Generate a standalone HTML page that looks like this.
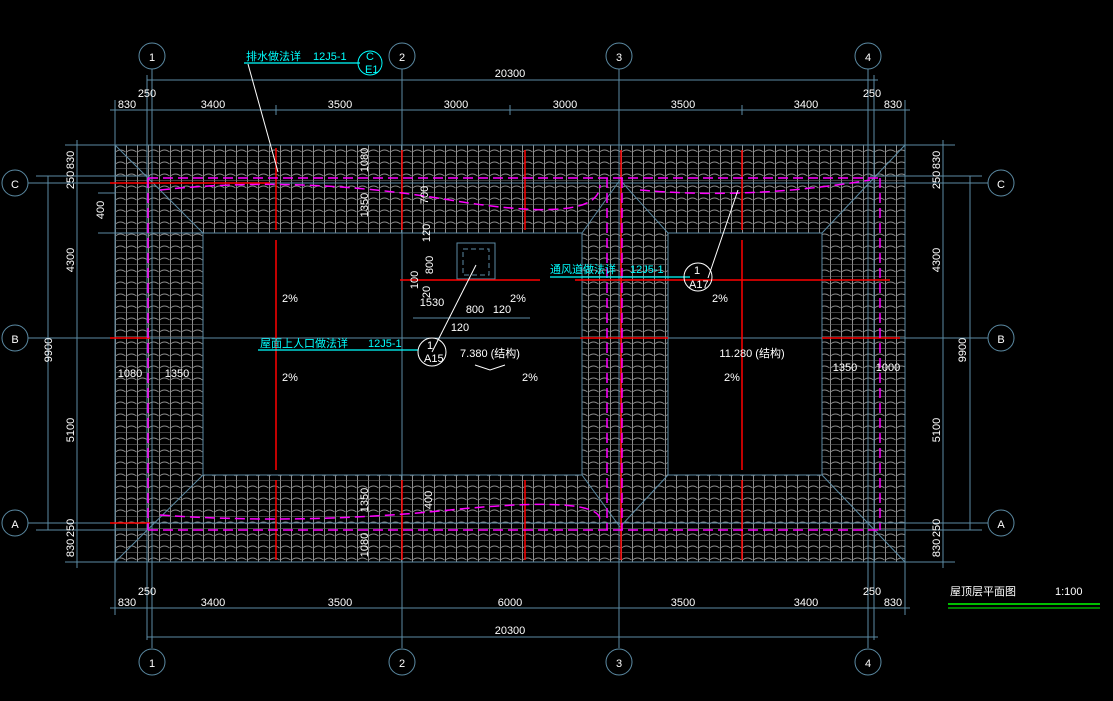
<!DOCTYPE html>
<html><head><meta charset="utf-8"><style>
html,body{margin:0;padding:0;background:#000;}
svg{display:block}
text{font-family:"Liberation Sans","Noto Sans CJK SC",sans-serif;fill:#fff;font-size:11px}
.c{fill:#00ffff}
</style></head><body>
<svg width="1113" height="701" viewBox="0 0 1113 701" xmlns="http://www.w3.org/2000/svg">
<defs>
<pattern id="tile" x="115" y="145" width="11" height="12" patternUnits="userSpaceOnUse">
<line x1="0.5" y1="0" x2="0.5" y2="12" stroke="#8e8e8e" stroke-width="1"/>
<path d="M0.5 7 Q5.5 3 10.5 7" fill="none" stroke="#8e8e8e" stroke-width="0.9"/>
<line x1="0" y1="11.5" x2="11" y2="11.5" stroke="#6a6a6a" stroke-width="0.6"/>
</pattern>
</defs>
<rect width="1113" height="701" fill="#000"/>
<path d="M115 145 H905 V562 H115 Z M203 233 V475 H582 V233 Z M668 233 V475 H822 V233 Z" fill="url(#tile)" fill-rule="evenodd"/>
<g stroke="#5b8aa3" stroke-width="1" fill="none">
<rect x="115" y="145" width="790" height="417"/>
<rect x="203" y="233" width="379" height="242"/>
<rect x="668" y="233" width="154" height="242"/>
<line x1="115" y1="145" x2="203" y2="233"/><line x1="905" y1="145" x2="822" y2="233"/>
<line x1="115" y1="562" x2="203" y2="475"/><line x1="905" y1="562" x2="822" y2="475"/>
<line x1="582" y1="233" x2="620" y2="180"/><line x1="668" y1="233" x2="620" y2="180"/>
<line x1="582" y1="475" x2="620" y2="527"/><line x1="668" y1="475" x2="620" y2="527"/>
<line x1="152" y1="68" x2="152" y2="648"/><line x1="402" y1="68" x2="402" y2="648"/>
<line x1="619" y1="68" x2="619" y2="648"/><line x1="868" y1="68" x2="868" y2="648"/>
<line x1="28" y1="183" x2="988" y2="183"/><line x1="28" y1="338" x2="988" y2="338"/>
<line x1="28" y1="523" x2="988" y2="523"/>
<line x1="147" y1="80" x2="878" y2="80"/>
<line x1="110" y1="110" x2="910" y2="110"/>
<line x1="115" y1="100" x2="115" y2="145"/><line x1="905" y1="100" x2="905" y2="145"/>
<line x1="147" y1="75" x2="147" y2="640"/><line x1="874" y1="75" x2="874" y2="640"/>
<line x1="276" y1="105" x2="276" y2="115"/><line x1="510" y1="105" x2="510" y2="115"/><line x1="742" y1="105" x2="742" y2="115"/>
<line x1="110" y1="608" x2="910" y2="608"/>
<line x1="147" y1="637" x2="878" y2="637"/>
<line x1="115" y1="562" x2="115" y2="615"/><line x1="905" y1="562" x2="905" y2="615"/>
<line x1="48" y1="176" x2="48" y2="530"/>
<line x1="77" y1="140" x2="77" y2="568"/>
<line x1="65" y1="145" x2="115" y2="145"/><line x1="65" y1="562" x2="115" y2="562"/>
<line x1="36" y1="176" x2="150" y2="176"/><line x1="36" y1="530" x2="150" y2="530"/>
<line x1="98" y1="193" x2="115" y2="193"/><line x1="98" y1="233" x2="203" y2="233"/>
<line x1="970" y1="176" x2="970" y2="530"/>
<line x1="943" y1="140" x2="943" y2="568"/>
<line x1="905" y1="145" x2="955" y2="145"/><line x1="905" y1="562" x2="955" y2="562"/>
<line x1="870" y1="176" x2="982" y2="176"/><line x1="870" y1="530" x2="982" y2="530"/>
<rect x="457" y="243" width="38" height="36"/>
<line x1="413" y1="318" x2="530" y2="318"/>
</g>
<rect x="463" y="249" width="26" height="26" fill="none" stroke="#5b8aa3" stroke-dasharray="5 3"/>
<g stroke="#ff0000" stroke-width="1.5">
<line x1="276" y1="148" x2="276" y2="230"/><line x1="276" y1="240" x2="276" y2="470"/><line x1="276" y1="480" x2="276" y2="560"/>
<line x1="402" y1="150" x2="402" y2="230"/><line x1="402" y1="480" x2="402" y2="560"/>
<line x1="525" y1="150" x2="525" y2="230"/><line x1="525" y1="480" x2="525" y2="560"/>
<line x1="621" y1="150" x2="621" y2="560"/>
<line x1="742" y1="150" x2="742" y2="230"/><line x1="742" y1="240" x2="742" y2="470"/><line x1="742" y1="480" x2="742" y2="560"/>
<line x1="110" y1="183" x2="270" y2="183"/><line x1="110" y1="338" x2="150" y2="338"/><line x1="110" y1="523" x2="150" y2="523"/>
<line x1="400" y1="280" x2="540" y2="280"/><line x1="575" y1="280" x2="890" y2="280"/>
<line x1="580" y1="338" x2="668" y2="338"/><line x1="822" y1="338" x2="900" y2="338"/>
</g>
<g stroke="#ff00ff" stroke-width="1.5" fill="none" stroke-dasharray="10 5">
<polyline points="148,178 880,178"/><polyline points="148,530 880,530"/>
<polyline points="148,178 148,530"/><polyline points="880,178 880,530"/>
<polyline points="607,178 607,530"/><polyline points="622,178 622,530"/>
<path d="M160 190 Q300 175 450 200 T600 185"/><path d="M640 190 Q750 200 870 180"/>
<path d="M160 515 Q300 525 450 510 T600 520"/>
</g>
<g stroke="#fff" stroke-width="1" fill="none">
<line x1="248" y1="64" x2="278" y2="172"/>
<line x1="476" y1="265" x2="432" y2="352"/>
<line x1="738" y1="190" x2="708" y2="278"/>
<path d="M475 365 L490 370 L505 365" />
</g>
<g stroke="#00ffff" stroke-width="1.3">
<line x1="244" y1="63" x2="360" y2="63"/>
<line x1="550" y1="277" x2="690" y2="277"/>
<line x1="258" y1="350" x2="418" y2="350"/>
</g>
<g fill="none" stroke="#fff" stroke-width="1">
<circle cx="432" cy="352" r="14"/><circle cx="698" cy="277" r="14"/>
</g>
<circle cx="370" cy="63" r="12" fill="none" stroke="#00ffff"/>
<text x="427" y="349" font-size="10">1</text><text x="424" y="362" font-size="9">A15</text>
<text x="694" y="274" font-size="10">1</text><text x="689" y="288" font-size="9">A17</text>
<text x="366" y="60" font-size="9" class="c">C</text><text x="365" y="73" font-size="9" class="c">E1</text>
<text x="246" y="60" class="c" font-size="13">排水做法详</text><text x="313" y="60" class="c" font-size="11">12J5-1</text>
<text x="550" y="273" class="c" font-size="13">通风道做法详</text><text x="630" y="273" class="c" font-size="11">12J5-1</text>
<text x="260" y="347" class="c" font-size="13">屋面上人口做法详</text><text x="368" y="347" class="c" font-size="11">12J5-1</text>
<g fill="#000" stroke="#5b8aa3" stroke-width="1">
<circle cx="152" cy="56" r="13"/><circle cx="402" cy="56" r="13"/><circle cx="619" cy="56" r="13"/><circle cx="868" cy="56" r="13"/>
<circle cx="152" cy="662" r="13"/><circle cx="402" cy="662" r="13"/><circle cx="619" cy="662" r="13"/><circle cx="868" cy="662" r="13"/>
<circle cx="15" cy="183" r="13"/><circle cx="15" cy="338" r="13"/><circle cx="15" cy="523" r="13"/>
<circle cx="1001" cy="183" r="13"/><circle cx="1001" cy="338" r="13"/><circle cx="1001" cy="523" r="13"/>
</g>
<g font-size="13" text-anchor="middle">
<text x="152" y="61">1</text><text x="402" y="61">2</text><text x="619" y="61">3</text><text x="868" y="61">4</text>
<text x="152" y="667">1</text><text x="402" y="667">2</text><text x="619" y="667">3</text><text x="868" y="667">4</text>
<text x="15" y="188">C</text><text x="15" y="343">B</text><text x="15" y="528">A</text>
<text x="1001" y="188">C</text><text x="1001" y="343">B</text><text x="1001" y="528">A</text>
</g>
<g text-anchor="middle">
<text x="510" y="77">20300</text>
<text x="147" y="97">250</text><text x="872" y="97">250</text>
<text x="127" y="108">830</text><text x="213" y="108">3400</text><text x="340" y="108">3500</text><text x="456" y="108">3000</text><text x="565" y="108">3000</text><text x="683" y="108">3500</text><text x="806" y="108">3400</text><text x="893" y="108">830</text>
<text x="147" y="595">250</text><text x="872" y="595">250</text>
<text x="127" y="606">830</text><text x="213" y="606">3400</text><text x="340" y="606">3500</text><text x="510" y="606">6000</text><text x="683" y="606">3500</text><text x="806" y="606">3400</text><text x="893" y="606">830</text>
<text x="510" y="634">20300</text>
<text x="432" y="306">1530</text><text x="475" y="313">800</text><text x="502" y="313">120</text><text x="460" y="331">120</text>
<text x="490" y="357">7.380 (结构)</text><text x="752" y="357">11.280 (结构)</text>
<text x="130" y="377">1080</text><text x="177" y="377">1350</text><text x="845" y="371">1350</text><text x="888" y="371">1000</text>
<text x="290" y="302" font-size="9">2%</text><text x="518" y="302" font-size="9">2%</text><text x="720" y="302" font-size="9">2%</text>
<text x="290" y="381" font-size="9">2%</text><text x="530" y="381" font-size="9">2%</text><text x="732" y="381" font-size="9">2%</text>
</g>
<g font-size="11" text-anchor="middle">
<text transform="translate(74,160) rotate(-90)">830</text>
<text transform="translate(74,180) rotate(-90)">250</text>
<text transform="translate(104,210) rotate(-90)">400</text>
<text transform="translate(74,260) rotate(-90)">4300</text>
<text transform="translate(52,350) rotate(-90)">9900</text>
<text transform="translate(74,430) rotate(-90)">5100</text>
<text transform="translate(74,528) rotate(-90)">250</text>
<text transform="translate(74,548) rotate(-90)">830</text>
<text transform="translate(940,160) rotate(-90)">830</text>
<text transform="translate(940,180) rotate(-90)">250</text>
<text transform="translate(940,260) rotate(-90)">4300</text>
<text transform="translate(966,350) rotate(-90)">9900</text>
<text transform="translate(940,430) rotate(-90)">5100</text>
<text transform="translate(940,528) rotate(-90)">250</text>
<text transform="translate(940,548) rotate(-90)">830</text>
<text transform="translate(368,160) rotate(-90)">1080</text>
<text transform="translate(368,205) rotate(-90)">1350</text>
<text transform="translate(428,195) rotate(-90)">700</text>
<text transform="translate(430,233) rotate(-90)">120</text>
<text transform="translate(433,265) rotate(-90)">800</text>
<text transform="translate(418,280) rotate(-90)">100</text>
<text transform="translate(430,292) rotate(-90)">20</text>
<text transform="translate(368,500) rotate(-90)">1350</text>
<text transform="translate(368,545) rotate(-90)">1080</text>
<text transform="translate(432,500) rotate(-90)">400</text>
</g>
<text x="950" y="595" font-size="14">屋顶层平面图</text>
<text x="1055" y="595" font-size="11">1:100</text>
<line x1="948" y1="604" x2="1100" y2="604" stroke="#00ff00" stroke-width="1.5"/>
<line x1="948" y1="608" x2="1100" y2="608" stroke="#00ff00" stroke-width="1"/>
</svg>
</body></html>
